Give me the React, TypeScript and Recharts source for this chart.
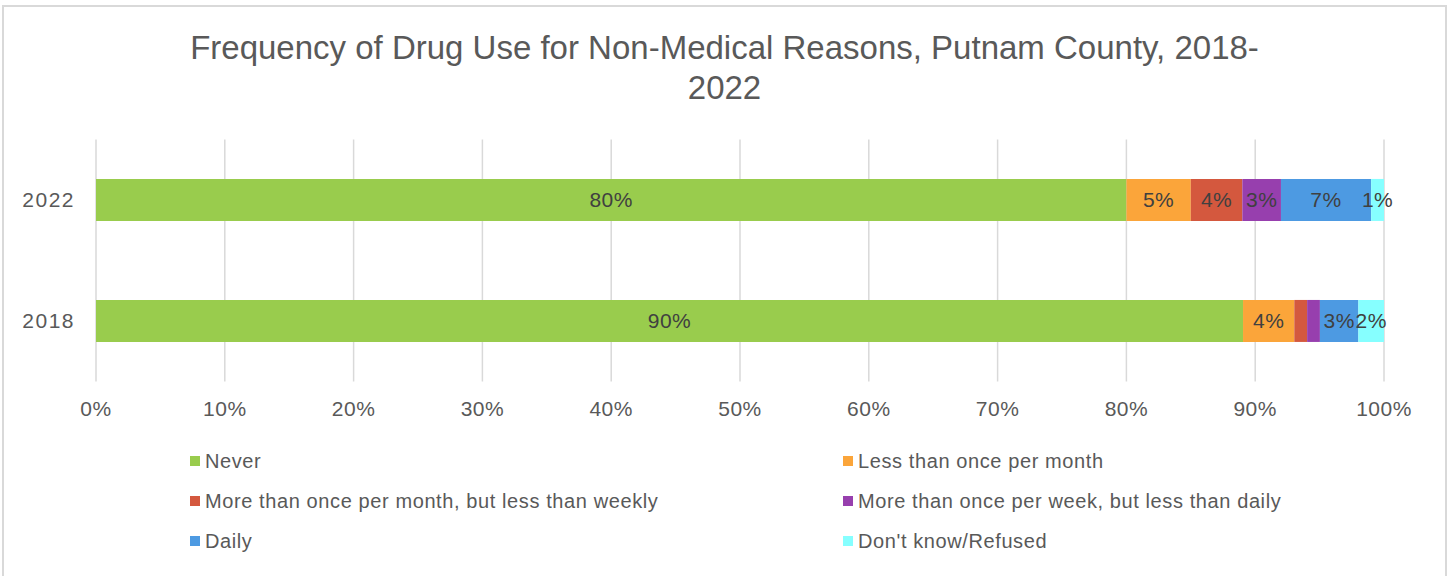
import { BarChart, Bar, XAxis, YAxis, CartesianGrid, LabelList } from 'recharts';

const YEARS = ['2022', '2018'];
const SERIES = [
  'Never',
  'Less than once per month',
  'More than once per month, but less than weekly',
  'More than once per week, but less than daily',
  'Daily',
  "Don't know/Refused",
];
const NEVER = [80, 89.5];
const LESS_MONTHLY = [5, 4];
const MONTHLY = [4, 1];
const WEEKLY = [3, 1];
const DAILY = [7, 3];
const DONT_KNOW = [1, 2];
const VALUES = [NEVER, LESS_MONTHLY, MONTHLY, WEEKLY, DAILY, DONT_KNOW];
// labels Excel left off the thin 2018 slices
const HIDDEN_LABELS = ['2018|2', '2018|3'];
const X_TICKS = [0, 0.1, 0.2, 0.3, 0.4, 0.5, 0.6, 0.7, 0.8, 0.9, 1];

const COLORS = ['#99CC4D', '#FBA53A', '#D4583E', '#973FAE', '#4D9AE2', '#86FFFF'];
const FONT = '"Liberation Sans", Arial, sans-serif';
const TEXT = '#595959';

const data = YEARS.map((year, i) => {
  const row: Record<string, any> = { year };
  VALUES.forEach((vals, k) => {
    row[`s${k}`] = vals[i];
  });
  return row;
});

const makeLabel = (k: number) => (props: any) => {
  const { x, y, width, height, index } = props;
  const year = YEARS[index];
  if (HIDDEN_LABELS.includes(`${year}|${k}`)) return null;
  const v = VALUES[k][index];
  return (
    <text
      x={x + width / 2}
      y={y + height / 2}
      textAnchor='middle'
      dominantBaseline='central'
      fill='#404040'
      fontSize={21}
      letterSpacing={0.5}
      fontFamily={FONT}
    >
      {`${Math.round(v)}%`}
    </text>
  );
};

export default function App() {
  return (
    <div
      style={{
        position: 'absolute',
        left: 0,
        top: 0,
        width: 1449,
        height: 576,
        overflow: 'hidden',
        background: '#fff',
        fontFamily: FONT,
      }}
    >
      <div
        style={{
          position: 'absolute',
          left: 2,
          top: 5,
          width: 1441,
          height: 640,
          border: '2px solid #d9d9d9',
        }}
      />
      <div
        style={{
          position: 'absolute',
          left: 0,
          top: 28,
          width: 1449,
          textAlign: 'center',
          color: TEXT,
          fontSize: 33,
          lineHeight: '40px',
        }}
      >
        <div>Frequency of Drug Use for Non-Medical Reasons, Putnam County, 2018-</div>
        <div>2022</div>
      </div>

      <div style={{ position: 'absolute', left: 0, top: 0 }}>
        <BarChart
          width={1449}
          height={576}
          data={data}
          layout='vertical'
          stackOffset='expand'
          barCategoryGap='32.6%'
          margin={{ top: 139.5, right: 65, left: 0, bottom: 164.5 }}
        >
          <CartesianGrid horizontal={false} stroke='#d9d9d9' strokeWidth={1.5} />
          <XAxis
            type='number'
            domain={[0, 1]}
            ticks={X_TICKS}
            height={30}
            axisLine={false}
            tickLine={false}
            tickSize={0}
            tickMargin={20}
            tick={{ fill: TEXT, fontSize: 21, fontFamily: FONT, letterSpacing: 0.5 }}
            tickFormatter={(v: number) => `${Math.round(v * 100)}%`}
            interval={0}
          />
          <YAxis
            type='category'
            dataKey='year'
            width={96}
            axisLine={false}
            tickLine={false}
            tickSize={0}
            tickMargin={21}
            tick={{ fill: TEXT, fontSize: 21, fontFamily: FONT, letterSpacing: 1.5 }}
          />
          {SERIES.map((name, k) => (
            <Bar
              key={name}
              name={name}
              dataKey={`s${k}`}
              stackId='a'
              fill={COLORS[k]}
              isAnimationActive={false}
            >
              <LabelList dataKey={`s${k}`} content={makeLabel(k)} />
            </Bar>
          ))}
        </BarChart>
      </div>

      {SERIES.map((name, k) => (
        <div
          key={name}
          style={{
            position: 'absolute',
            left: k % 2 === 0 ? 190 : 843,
            top: 461 + Math.floor(k / 2) * 40 - 12,
            height: 24,
            display: 'flex',
            alignItems: 'center',
            color: TEXT,
            fontSize: 20,
            letterSpacing: 0.6,
            whiteSpace: 'nowrap',
          }}
        >
          <span
            style={{
              display: 'inline-block',
              width: 10,
              height: 10,
              background: COLORS[k],
              marginRight: 5,
            }}
          />
          {name}
        </div>
      ))}
    </div>
  );
}
